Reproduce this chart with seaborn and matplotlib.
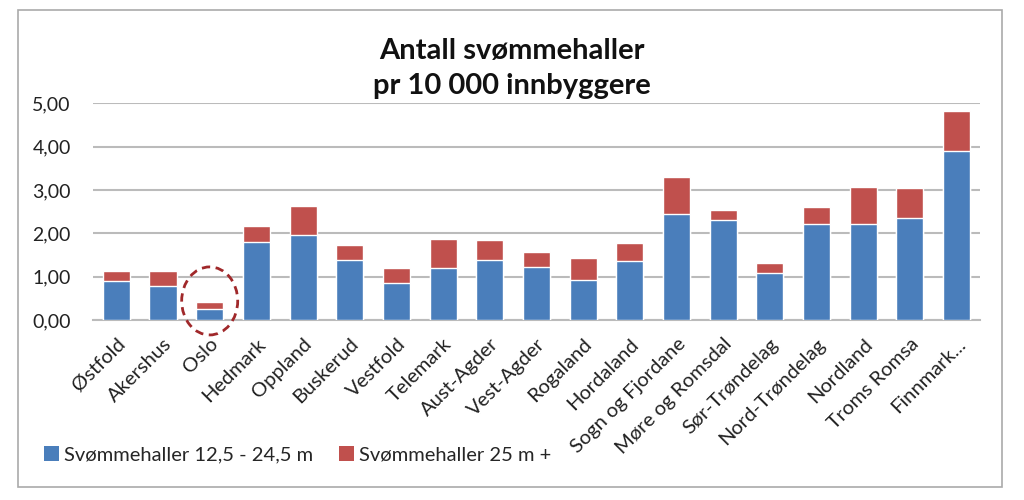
import matplotlib
matplotlib.use("Agg")
import matplotlib.pyplot as plt
import seaborn as sns
import pandas as pd
from matplotlib.patches import Patch, Ellipse, Rectangle

fylker = ["Østfold", "Akershus", "Oslo", "Hedmark", "Oppland", "Buskerud", "Vestfold",
          "Telemark", "Aust-Agder", "Vest-Agder", "Rogaland", "Hordaland",
          "Sogn og Fjordane", "Møre og Romsdal", "Sør-Trøndelag", "Nord-Trøndelag",
          "Nordland", "Troms Romsa", "Finnmark..."]
small_halls = [0.90, 0.79, 0.25, 1.81, 1.96, 1.39, 0.86, 1.19, 1.39, 1.23, 0.92, 1.37,
               2.45, 2.31, 1.08, 2.22, 2.22, 2.36, 3.89]
large_halls = [0.22, 0.34, 0.17, 0.36, 0.66, 0.34, 0.33, 0.68, 0.46, 0.33, 0.52, 0.40,
               0.84, 0.23, 0.23, 0.38, 0.86, 0.68, 0.93]
series_names = ["Svømmehaller 12,5 - 24,5 m", "Svømmehaller 25 m +"]
yticks = [0, 1, 2, 3, 4, 5]
title = "Antall svømmehaller\npr 10 000 innbyggere"

BLUE = "#4A7EBB"
RED = "#C0504D"

sns.set_theme(style="white")
plt.rcParams["font.family"] = ["Lato", "DejaVu Sans"]

df = pd.DataFrame({"fylke": fylker, "small": small_halls, "large": large_halls})
df["total"] = df["small"] + df["large"]

fig = plt.figure(figsize=(10.24, 5.0), dpi=100)
ax = fig.add_axes([0.0908, 0.36, 0.8662, 0.4334])

sns.barplot(data=df, x="fylke", y="total", color=RED, saturation=1, width=0.58,
            order=fylker, ax=ax, zorder=3)
sns.barplot(data=df, x="fylke", y="small", color=BLUE, saturation=1, width=0.58,
            order=fylker, ax=ax, zorder=3)

ax.set_xlim(-0.5, len(fylker) - 0.5)
ax.set_ylim(0, 5)
ax.set_yticks(yticks)
ax.set_yticklabels([f"{v:.2f}".replace(".", ",") for v in yticks], fontsize=14, color="#222222")
ax.yaxis.grid(True, color="#BBBBBB", linewidth=1.5, zorder=0)
ax.set_axisbelow(True)
for s in ["left", "right", "top"]:
    ax.spines[s].set_visible(False)
ax.spines["bottom"].set_color("#BBBBBB")
ax.spines["bottom"].set_linewidth(1.5)
ax.tick_params(axis="y", length=0, pad=16)
ax.tick_params(axis="x", length=0, pad=11)
ax.set_xlabel("")
ax.set_ylabel("")
plt.setp(ax.get_xticklabels(), rotation=45, ha="right", rotation_mode="anchor",
         fontsize=14.5, color="#222222")

# dashed ellipse around Oslo
ell = Ellipse((2, 0.44), width=1.2, height=1.57, fill=False, edgecolor="#A0282A",
              linestyle=(0, (3, 2)), linewidth=2.0, clip_on=False, zorder=5)
ax.add_patch(ell)

fig.text(0.5, 0.863, title, ha="center", va="center", fontsize=21, fontweight="bold",
         color="#111111", linespacing=1.45)

handles = [Patch(facecolor=BLUE, edgecolor="none"), Patch(facecolor=RED, edgecolor="none")]
fig.legend(handles, series_names, loc="center left", bbox_to_anchor=(0.025, 0.09),
           ncol=2, frameon=False, fontsize=14.5, handlelength=0.75, handleheight=0.75,
           handletextpad=0.25, columnspacing=1.3)

fig.patches.append(Rectangle((18 / 1024, 1 - 487 / 500), (1002 - 18) / 1024, (487 - 10) / 500,
                             transform=fig.transFigure, fill=False, edgecolor="#AAAAAA",
                             linewidth=1.2, zorder=0))

fig.savefig("out.png", dpi=100, facecolor="white")
